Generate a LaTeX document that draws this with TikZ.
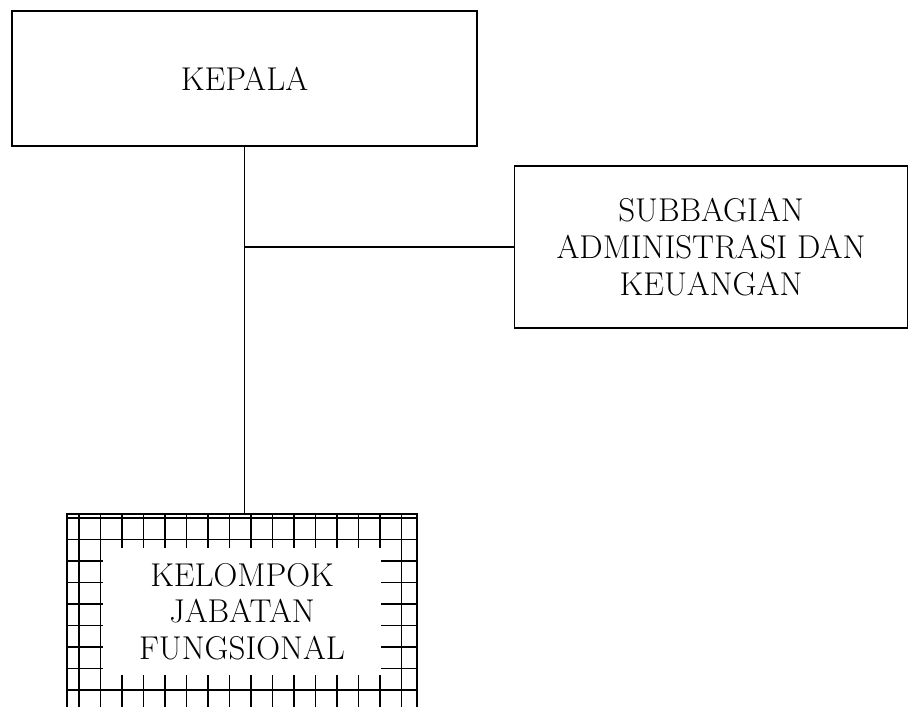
\documentclass[tikz,border=0pt]{standalone}
\usetikzlibrary{positioning}
\tikzset{
  box/.style={draw, line width=1.6pt, align=center, inner sep=0pt,
    font=\fontsize{33}{36.7}\selectfont},
  gridline/.style={line width=1.8pt},
  link/.style={line width=1.6pt}
}
\begin{document}
\begin{tikzpicture}[x=1pt,y=-1pt]
      \useasboundingbox (0,0) rectangle (909,707);
      \node[box, minimum width=465pt, minimum height=135pt] (kepala) at (244.5,78.5) {KEPALA};
      \node[box, minimum width=393pt, minimum height=162pt] (subbag) at (711,247) {SUBBAGIAN\\ADMINISTRASI DAN\\KEUANGAN};
      % hatched frame of the functional group
      \node[minimum width=350pt, minimum height=193pt, inner sep=0pt] (jabfung) at (242,610.5) {};
      \begin{scope}
        \clip (jabfung.north west) rectangle (jabfung.south east);
        \foreach \i in {0,...,15} \draw[gridline] (79+21.5*\i,514) -- (79+21.5*\i,707);
        \foreach \j in {0,...,8} \draw[gridline] (67,518+21.5*\j) -- (417,518+21.5*\j);
      \end{scope}
      \draw[gridline] (jabfung.south west) -- (jabfung.north west) -- (jabfung.north east) -- (jabfung.south east);
      \node[box, draw=none, fill=white, minimum width=278pt, minimum height=127pt] (kelompok) at (242,611.5) {KELOMPOK\\JABATAN\\FUNGSIONAL};
      % connectors
      \coordinate (cabang) at (kepala.south |- subbag.west);
      \draw[link] (kepala.south) -- (kepala.south |- jabfung.north);
      \draw[link] (cabang) -- (subbag.west);
    \end{tikzpicture}
\end{document}
